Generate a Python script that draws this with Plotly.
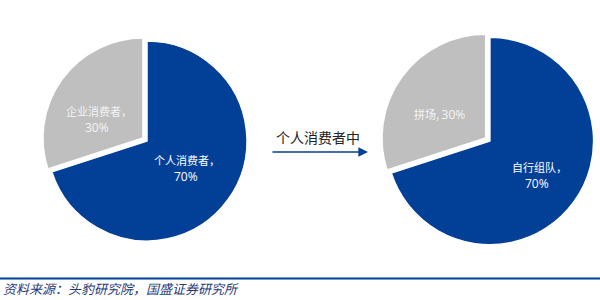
import plotly.graph_objects as go

# Consumer split and, within individual consumers, how teams are formed
consumer_labels = ["个人消费者", "企业消费者"]
consumer_share = [70, 30]
team_labels = ["自行组队", "拼场"]
team_share = [70, 30]

BLUE = "#023F97"
GRAY = "#BFBFBF"
CJK_FONT = "Noto Sans CJK SC"
NUM_FONT = "Open Sans"
W, H = 600, 300


def pie(labels, values, domain):
    return go.Pie(
        labels=labels,
        values=values,
        sort=False,
        direction="clockwise",
        rotation=0,
        pull=[0, 0.05],
        marker=dict(colors=[BLUE, GRAY], line=dict(color="white", width=1.5)),
        textinfo="none",
        domain=domain,
        showlegend=False,
        hoverinfo="label+percent",
    )


fig = go.Figure()
fig.add_trace(pie(consumer_labels, consumer_share, dict(x=[0.07, 0.42], y=[0.18, 0.88])))
fig.add_trace(pie(team_labels, team_share, dict(x=[0.635, 0.998], y=[0.167, 0.893])))


def txt(text, px, py, font, size, color="white", anchor="center"):
    return dict(text=text, x=px / W, y=1 - py / H, xref="paper", yref="paper",
                showarrow=False, xanchor=anchor, yanchor="middle",
                font=dict(family=font, size=size, color=color))


def pct(v, values):
    return f"{round(100 * v / sum(values))}%"


LABEL_COLOR = "#F4F4F4"
annotations = [
    # left pie labels
    txt(consumer_labels[1] + "，", 99, 111, CJK_FONT, 11, LABEL_COLOR),
    txt(pct(consumer_share[1], consumer_share), 97, 127, NUM_FONT, 12, LABEL_COLOR),
    txt(consumer_labels[0] + "，", 187, 160, CJK_FONT, 11),
    txt(pct(consumer_share[0], consumer_share), 186, 176, NUM_FONT, 12),
    # right pie labels
    txt(team_labels[1] + ", <span style='font-family:Open Sans;font-size:12px'>"
        + pct(team_share[1], team_share) + "</span>", 439, 115, CJK_FONT, 11, LABEL_COLOR),
    txt(team_labels[0] + "，", 539, 167, CJK_FONT, 11),
    txt(pct(team_share[0], team_share), 537, 183, NUM_FONT, 12),
    # caption above the arrow linking the two pies
    txt("个人消费者中", 318, 137, CJK_FONT, 14, "#222222"),
    # arrow pointing to the second pie
    dict(text="", x=368 / W, y=1 - 152 / H, xref="paper", yref="paper",
         ax=-97, ay=0, showarrow=True, arrowhead=2, arrowsize=1.2,
         arrowwidth=1.6, arrowcolor=BLUE),
    # source note
    txt("<i>资料来源：头豹研究院，国盛证券研究所</i>", 1, 288, CJK_FONT, 13, "#1F3B7A", "left"),
]

shapes = [
    dict(type="line", xref="paper", yref="paper", x0=0, x1=1,
         y0=1 - 278.5 / H, y1=1 - 278.5 / H, line=dict(color=BLUE, width=2)),
]

fig.update_layout(
    width=W, height=H,
    margin=dict(l=0, r=0, t=0, b=0),
    paper_bgcolor="white",
    plot_bgcolor="white",
    annotations=annotations,
    shapes=shapes,
)

fig.write_html("out.html")
